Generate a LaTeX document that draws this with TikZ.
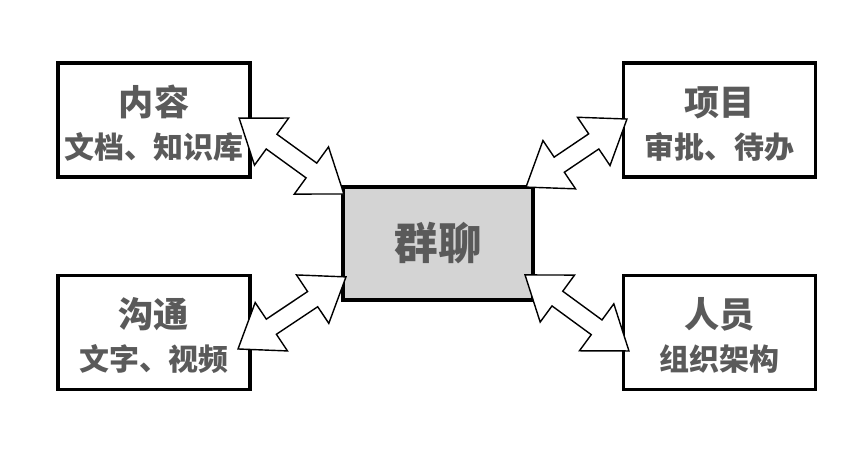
\documentclass[tikz,border=0pt]{standalone}
\usepackage{fontspec}
\setmainfont{Noto Sans CJK SC}
\usepackage{tikz}
\usetikzlibrary{positioning, shapes, calc}
\definecolor{textGray}{HTML}{5A5A5A}
\definecolor{hubGray}{HTML}{D4D4D4}

\newcommand{\linkarrow}[2]{%
  \path let \p1=(#1), \p2=(#2),
            \n1={atan2(\y2-\y1,\x2-\x1)}, \n2={veclen(\x2-\x1,\y2-\y1)} in
    node[link, minimum height=\n2, rotate=\n1] at ($(#1)!0.5!(#2)$) {};}
\newcommand{\topictitle}[1]{{\fontsize{25}{30.5}\selectfont\rule{0pt}{26pt}#1}}

\begin{document}
\begin{tikzpicture}[
  x=0.025cm, y=-0.025cm,
  topic/.style={draw=black, fill=white, line width=2.8pt,
                minimum width=4.8cm, minimum height=2.85cm, align=center,
                text=textGray, font=\bfseries\fontsize{21.3}{30.5}\selectfont},
  hub/.style={draw=black, fill=hubGray, line width=2.8pt,
              minimum width=4.75cm, minimum height=2.82cm,
              text=textGray, font=\bfseries\fontsize{31}{31}\selectfont},
  link/.style={double arrow, draw=black, fill=white, line width=1pt,
               inner xsep=0pt, inner ysep=0.21cm,
               double arrow head extend=0.5cm, double arrow tip angle=72}
]
  \useasboundingbox (0,0) rectangle (864,464);

  \node[hub]   (groupChat) at (438,243.5) {群聊};
  \node[topic] (content)   at (154,120)   {\topictitle{内容}\\文档、知识库};
  \node[topic] (project)   at (719.5,120) {\topictitle{项目}\\审批、待办};
  \node[topic] (talk)      at (154,332.5) {\topictitle{沟通}\\文字、视频};
  \node[topic] (people)    at (719.5,332.5) {\topictitle{人员}\\组织架构};

  % arrow ends
  \coordinate (contentTip) at ([shift={(-13,-2)}]content.east);
  \coordinate (projectTip) at ([shift={(5.5,-1)}]project.west);
  \coordinate (talkTip)    at ([shift={(-14,16.5)}]talk.east);
  \coordinate (peopleTip)  at ([shift={(7.5,18.5)}]people.west);
  \coordinate (hubTipA) at ([shift={(3,9)}]groupChat.north west);
  \coordinate (hubTipB) at ([shift={(-9,2)}]groupChat.north east);
  \coordinate (hubTipC) at ([shift={(5,-25)}]groupChat.south west);
  \coordinate (hubTipD) at ([shift={(-10,-27)}]groupChat.south east);

  \linkarrow{contentTip}{hubTipA}
  \linkarrow{projectTip}{hubTipB}
  \linkarrow{talkTip}{hubTipC}
  \linkarrow{peopleTip}{hubTipD}
\end{tikzpicture}
\end{document}
